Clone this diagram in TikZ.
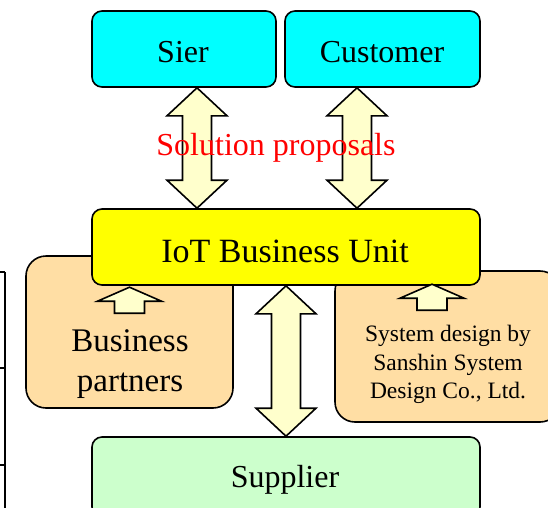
\documentclass[tikz,border=0pt]{standalone}
\usepackage{fontspec}
\setmainfont{Liberation Serif}
\definecolor{cbox}{HTML}{00FFFF}
\definecolor{ybox}{HTML}{FFFF00}
\definecolor{pbox}{HTML}{FFDEA4}
\definecolor{gbox}{HTML}{CCFFCC}
\definecolor{afill}{HTML}{FFFFCC}
\newcommand\fatdouble[2]{%
  \draw[arr] (#1) -- ([shift={(30,28)}]#1) -- ([shift={(14.5,28)}]#1)
    -- ([shift={(14.5,-28)}]#2) -- ([shift={(30,-28)}]#2) -- (#2)
    -- ([shift={(-30,-28)}]#2) -- ([shift={(-14.5,-28)}]#2)
    -- ([shift={(-14.5,28)}]#1) -- ([shift={(-30,28)}]#1) -- cycle;}
\newcommand\smallup[1]{%
  \draw[arr] (#1) -- ++(32,14) -- ++(-17,0) -- ++(0,12) -- ++(-30,0)
    -- ++(0,-12) -- ++(-17,0) -- cycle;}
\begin{document}
\begin{tikzpicture}[x=1pt,y=-1pt,
  box/.style={draw=black,line width=1.6pt,rounded corners=10pt,inner sep=0pt},
  pbx/.style={box,fill=pbox,rounded corners=20pt},
  arr/.style={draw=black,line width=1.6pt,fill=afill,line join=miter},
  big/.style={font=\fontsize{32}{38}\selectfont},
  lbl/.style={inner sep=0pt}]
\useasboundingbox (0,0) rectangle (548,507);
\clip (0,0) rectangle (548,507);
% left edge line
\draw[line width=1.5pt] (5,272) -- (5,512);
\draw[line width=1.5pt] (0,272) -- (5,272) (0,368) -- (5,368) (0,465) -- (5,465);
% peach boxes (behind)
\node[pbx,minimum width=207pt,minimum height=152pt] (bp) at (129.5,332) {};
\node[pbx,minimum width=225pt,minimum height=151pt] (sd) at (447.5,346.5) {};
% top boxes
\node[box,fill=cbox,minimum width=184pt,minimum height=76pt] (sier) at (184,49) {};
\node[box,fill=cbox,minimum width=195pt,minimum height=76pt] (cust) at (382.5,49) {};
% IoT
\node[box,fill=ybox,minimum width=388pt,minimum height=76pt] (iot) at (286,247) {};
% supplier
\node[box,fill=gbox,minimum width=388pt,minimum height=80pt] (sup) at (286,477) {};
% texts
\node[lbl,big] (siert) at (183,52.5) {Sier};
\node[lbl,big] (custt) at (382,52.5) {Customer};
\node[lbl,big,font=\fontsize{34}{40}\selectfont] (iott) at (285,251) {IoT Business Unit};
\node[lbl,font=\fontsize{33}{40}\selectfont,align=center] (bpt) at (130,364) {Business\\partners};
\node[lbl,font=\fontsize{23.5}{28.5}\selectfont,align=center] (sdt) at (448,364.5) {System design by\\Sanshin System\\Design Co., Ltd.};
\node[lbl,big] (supt) at (285,480) {Supplier};
% arrow end points
\coordinate (a1t) at ([xshift=13pt]sier.south);
\coordinate (a1b) at ([xshift=-89pt]iot.north);
\coordinate (a2t) at ([xshift=-25.5pt]cust.south);
\coordinate (a2b) at ([xshift=71pt]iot.north);
\fatdouble{a1t}{a1b}
\fatdouble{a2t}{a2b}
\fatdouble{iot.south}{sup.north}
\coordinate (u1) at ([yshift=-32pt]bp.north);
\coordinate (u2) at ([xshift=-15.5pt,yshift=-14pt]sd.north);
\smallup{u1}
\smallup{u2}
% red label
\node[lbl,big,text=red] (sol) at (276,148) {Solution proposals};
\end{tikzpicture}
\end{document}
